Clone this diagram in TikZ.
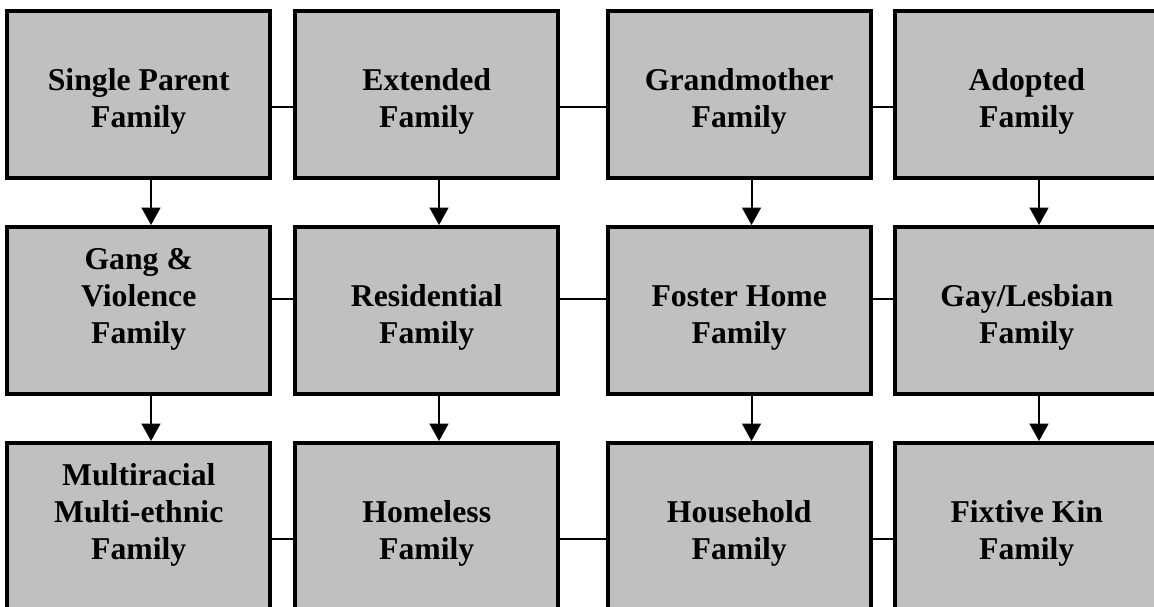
\documentclass[tikz,border=0pt]{standalone}
\usepackage{fontspec}
\setmainfont{Liberation Serif}
\usepackage{tikz}
\usetikzlibrary{arrows.meta,positioning}
\definecolor{boxgray}{RGB}{192,192,192}

\begin{document}
\begin{tikzpicture}[x=0.75pt,y=-0.75pt,
    famBox/.style={draw=black, line width=3pt, fill=boxgray, inner sep=0pt,
      minimum width=197.6pt, minimum height=125.6pt},
    famText/.style={inner sep=0pt, align=center,
      font=\fontsize{23.8pt}{27.75pt}\selectfont\bfseries},
    link/.style={draw=black, line width=1.5pt},
    down/.style={draw=black, line width=1.5pt, -{Triangle[width=14pt,length=13pt]}}]
  \useasboundingbox (0,0) rectangle (1154,607);
  \clip (0,0) rectangle (1154,607);
  %boxes
  \foreach \c/\x in {1/138.75,2/426.75,3/739.25,4/1026.75}
    \foreach \r/\y in {1/94.75,2/310.75,3/526.75}
      \node[famBox] (b\r\c) at (\x,\y) {};
  %texts
  \node[famText, above=34.5pt of b11.south] (t11) {Single Parent\\Family};
  \node[famText, above=34.5pt of b12.south] (t12) {Extended\\Family};
  \node[famText, above=34.5pt of b13.south] (t13) {Grandmother\\Family};
  \node[famText, above=34.5pt of b14.south] (t14) {Adopted\\Family};
  \node[famText, above=34.5pt of b21.south] (t21) {Gang \&\\Violence\\Family};
  \node[famText, above=34.5pt of b22.south] (t22) {Residential\\Family};
  \node[famText, above=34.5pt of b23.south] (t23) {Foster Home\\Family};
  \node[famText, above=34.5pt of b24.south] (t24) {Gay/Lesbian\\Family};
  \node[famText, above=34.5pt of b31.south] (t31) {Multiracial\\Multi-ethnic\\Family};
  \node[famText, above=34.5pt of b32.south] (t32) {Homeless\\Family};
  \node[famText, above=34.5pt of b33.south] (t33) {Household\\Family};
  \node[famText, above=34.5pt of b34.south] (t34) {Fixtive Kin\\Family};
  %links
  \foreach \r/\dy in {1/-9.2pt,2/8.8pt,3/-9.2pt}
    \foreach \a/\b in {1/2,2/3,3/4}
      \draw[link] ([yshift=\dy]b\r\a.east) -- ([yshift=\dy]b\r\b.west);
  %arrows
  \foreach \c in {1,...,4}
    \foreach \r/\n in {1/2,2/3}
      \draw[down] ([xshift=9.2pt]b\r\c.south) -- ([xshift=9.2pt]b\n\c.north);
\end{tikzpicture}
\end{document}
